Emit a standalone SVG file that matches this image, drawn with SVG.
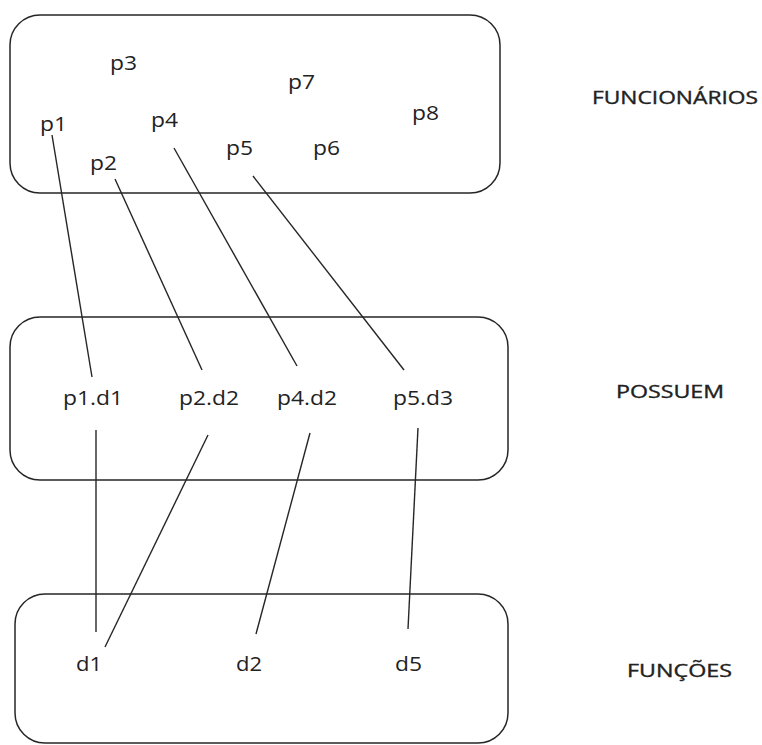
<svg xmlns="http://www.w3.org/2000/svg" width="762" height="745" viewBox="0 0 762 745">
<style>
.box{fill:none;stroke:#262626;stroke-width:1.5}
.t{font-family:"Open Sans","Noto Sans",sans-serif;font-size:20px;fill:#222222}
.lbl{font-family:"Open Sans","Noto Sans",sans-serif;font-size:17.5px;fill:#222222;stroke:#222222;stroke-width:0.35}
.c line{stroke:#262626;stroke-width:1.4}
</style>
<rect width="762" height="745" fill="#ffffff"/>
<g id="funcionarios">
<rect class="box" x="10" y="15" width="490" height="178" rx="30" ry="30"/>
<text class="t" x="110" y="70" textLength="27" lengthAdjust="spacingAndGlyphs">p3</text>
<text class="t" x="288" y="89" textLength="27" lengthAdjust="spacingAndGlyphs">p7</text>
<text class="t" x="40" y="131" textLength="27" lengthAdjust="spacingAndGlyphs">p1</text>
<text class="t" x="151" y="127" textLength="27" lengthAdjust="spacingAndGlyphs">p4</text>
<text class="t" x="412" y="120" textLength="27" lengthAdjust="spacingAndGlyphs">p8</text>
<text class="t" x="226" y="155" textLength="27" lengthAdjust="spacingAndGlyphs">p5</text>
<text class="t" x="313" y="155" textLength="27" lengthAdjust="spacingAndGlyphs">p6</text>
<text class="t" x="90" y="170" textLength="27" lengthAdjust="spacingAndGlyphs">p2</text>
</g>
<g id="possuem">
<rect class="box" x="10" y="317" width="498" height="163" rx="30" ry="30"/>
<text class="t" x="63" y="405" textLength="60" lengthAdjust="spacingAndGlyphs">p1.d1</text>
<text class="t" x="179" y="405" textLength="60" lengthAdjust="spacingAndGlyphs">p2.d2</text>
<text class="t" x="277" y="405" textLength="60" lengthAdjust="spacingAndGlyphs">p4.d2</text>
<text class="t" x="393" y="405" textLength="60" lengthAdjust="spacingAndGlyphs">p5.d3</text>
</g>
<g id="funcoes">
<rect class="box" x="15" y="594" width="493" height="149" rx="30" ry="30"/>
<text class="t" x="76" y="671" textLength="26" lengthAdjust="spacingAndGlyphs">d1</text>
<text class="t" x="236" y="671" textLength="26" lengthAdjust="spacingAndGlyphs">d2</text>
<text class="t" x="395" y="671" textLength="27" lengthAdjust="spacingAndGlyphs">d5</text>
</g>
<g id="labels">
<text class="lbl" x="592" y="104" textLength="166" lengthAdjust="spacingAndGlyphs">FUNCIONÁRIOS</text>
<text class="lbl" x="616" y="398" textLength="108" lengthAdjust="spacingAndGlyphs">POSSUEM</text>
<text class="lbl" x="627" y="677" textLength="105" lengthAdjust="spacingAndGlyphs">FUNÇÕES</text>
</g>
<g id="connectors" class="c">
<line x1="52" y1="135" x2="92" y2="377"/>
<line x1="115" y1="179" x2="202" y2="370"/>
<line x1="174" y1="148" x2="297" y2="366"/>
<line x1="253" y1="176" x2="404" y2="370"/>
<line x1="96" y1="430" x2="96" y2="632"/>
<line x1="208" y1="435" x2="105" y2="647"/>
<line x1="310" y1="433" x2="256" y2="634"/>
<line x1="418" y1="428" x2="408" y2="629"/>
</g>
</svg>
